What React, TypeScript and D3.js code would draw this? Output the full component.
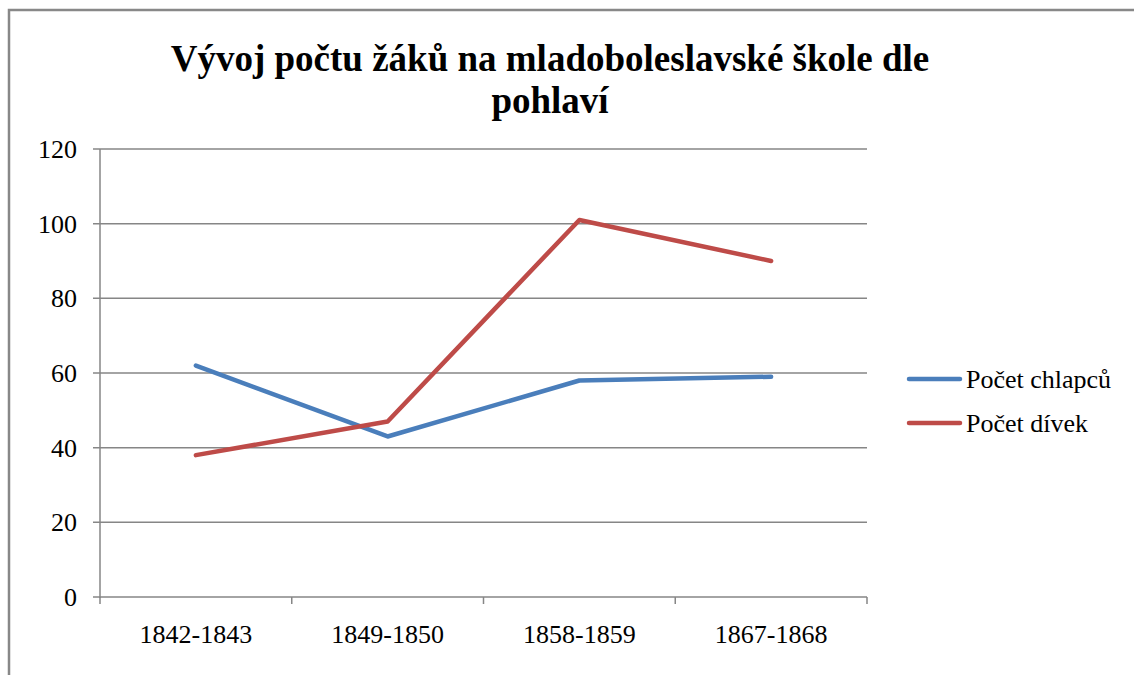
import React from "react";
import * as d3 from "d3";

const categories = ["1842-1843", "1849-1850", "1858-1859", "1867-1868"];
const boys = [62, 43, 58, 59];
const girls = [38, 47, 101, 90];
const yTicks = [0, 20, 40, 60, 80, 100, 120];
const seriesNames = ["Počet chlapců", "Počet dívek"];
const seriesColors = ["#4A7EBB", "#BE4B48"];
const titleLines = ["Vývoj počtu žáků na mladoboleslavské škole dle", "pohlaví"];

export default function App() {
  const W = 1134, H = 675;
  const left = 100, right = 867, top = 149, bottom = 597;
  const x = d3.scaleBand().domain(categories).range([left, right]).padding(0);
  const y = d3.scaleLinear().domain([0, 120]).range([bottom, top]);
  const line = d3
    .line<number>()
    .x((_, i) => (x(categories[i]) as number) + x.bandwidth() / 2)
    .y((d) => y(d));
  const series = [boys, girls];
  const grid = "#868686";
  const xTickPos = [...categories.map((c) => x(c) as number), right];
  const t = (size: number, bold = false) => ({
    fontFamily: "Liberation Serif",
    fontSize: size + "px",
    fontWeight: bold ? 700 : 400,
  });
  return (
    <div style={{ position: "absolute", left: 0, top: 0, width: W, height: H, fontFamily: "Liberation Serif" }}>
      <svg width={W} height={H} style={{ display: "block" }}>
        <rect x={0} y={0} width={W} height={H} fill="#fff" />
        <path d={`M9,${H + 5} V10 H${W + 5}`} fill="none" stroke="#888" strokeWidth={2.5} />
        {titleLines.map((s, i) => (
          <text key={i} x={550} y={71 + i * 42} textAnchor="middle" style={t(37, true)} fill="#000">
            {s}
          </text>
        ))}
        {yTicks.map((v) => (
          <g key={v}>
            <line x1={left - 7} x2={right} y1={y(v)} y2={y(v)} stroke={grid} strokeWidth={1.5} />
            <text x={77} y={y(v) + 9} textAnchor="end" style={t(26)} fill="#000">
              {v}
            </text>
          </g>
        ))}
        <line x1={left} x2={left} y1={top} y2={bottom + 1} stroke={grid} strokeWidth={1.5} />
        {xTickPos.map((p, i) => (
          <line key={i} x1={p} x2={p} y1={bottom} y2={bottom + 7} stroke={grid} strokeWidth={1.5} />
        ))}
        {categories.map((c) => (
          <text key={c} x={(x(c) as number) + x.bandwidth() / 2} y={643} textAnchor="middle" style={t(26)} fill="#000">
            {c}
          </text>
        ))}
        {series.map((s, i) => (
          <path key={i} d={line(s) as string} fill="none" stroke={seriesColors[i]} strokeWidth={4.5} strokeLinecap="round" strokeLinejoin="round" />
        ))}
        {seriesNames.map((n, i) => (
          <g key={n}>
            <line x1={909} x2={960} y1={379 + i * 44} y2={379 + i * 44} stroke={seriesColors[i]} strokeWidth={4.5} strokeLinecap="round" />
            <text x={966} y={379 + i * 44 + 9} style={t(26)} fill="#000">
              {n}
            </text>
          </g>
        ))}
      </svg>
    </div>
  );
}
